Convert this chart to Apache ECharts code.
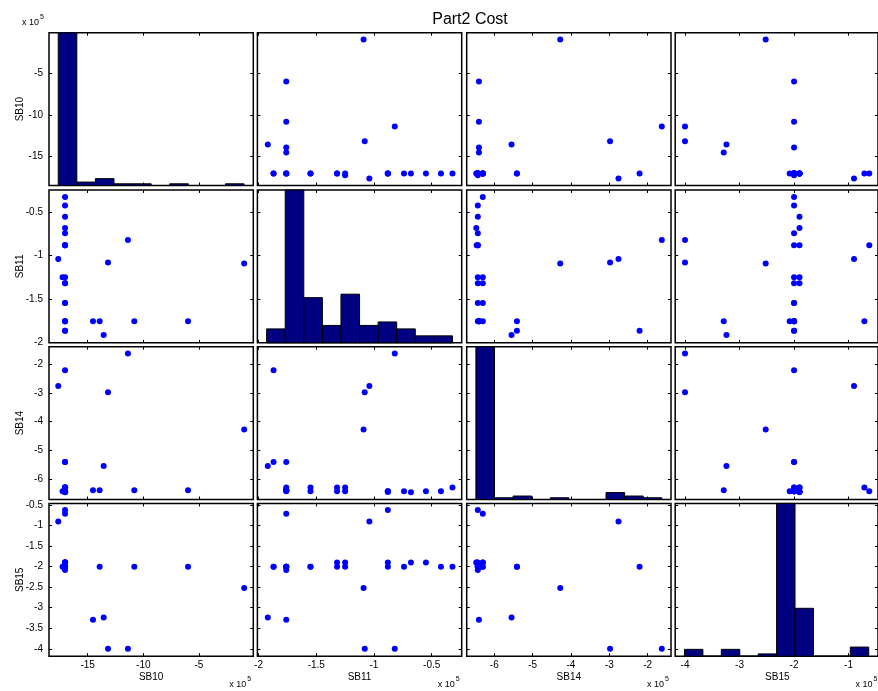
<!DOCTYPE html>
<html><head><meta charset="utf-8">
<script src="https://cdn.jsdelivr.net/npm/echarts@6/dist/echarts.min.js"></script>
<style>html,body{margin:0;padding:0;background:#fff}#c{width:878px;height:691px}</style>
</head><body><div id="c"></div>
<script>
// ---- data (units of 1e5) ----
const varNames = ['SB10', 'SB11', 'SB14', 'SB15'];
const SB10 = [-11.38, -17.64, -13.17, -0.94, -13.56, -14.52, -13.92, -10.81, -5.98,
  -17.03, -17.03, -17.03, -17.03, -17.03, -17.03, -17.03, -17.03, -17.25, -17.03,
  -17.03, -17.03, -17.03, -17.03, -17.03, -17.03, -17.03, -17.03, -17.03];
const SB11 = [-0.82, -1.04, -1.08, -1.09, -1.92, -1.76, -1.76, -1.76, -1.76,
  -0.32, -0.42, -0.55, -0.68, -0.74, -0.88, -0.88, -0.88, -1.25, -1.25,
  -1.32, -1.32, -1.55, -1.55, -1.76, -1.76, -1.76, -1.87, -1.87];
const SB14 = [-1.63, -2.76, -2.98, -4.28, -5.55, -6.40, -6.40, -6.40, -6.40,
  -6.30, -6.43, -6.43, -6.47, -6.43, -6.43, -6.46, -6.43, -6.43, -6.30,
  -6.43, -6.30, -6.43, -6.30, -6.43, -6.30, -5.41, -5.41, -2.21];
const SB15 = [-4.00, -0.90, -4.00, -2.52, -3.24, -3.29, -2.00, -2.00, -2.00,
  -2.00, -2.00, -1.90, -1.90, -2.00, -2.00, -1.90, -0.62, -2.00, -1.90,
  -2.00, -1.90, -2.00, -2.00, -2.08, -0.71, -2.00, -2.00, -2.00];

const hist10 = [89, 2, 4, 1, 1, 0, 1, 0, 0, 1];
const hist11 = [4, 44, 13, 5, 14, 5, 6, 4, 2, 2];
const hist14 = [88, 1, 2, 0, 1, 0, 0, 4, 2, 1];
const hist15 = [3, 0, 3, 0, 1, 67, 21, 0, 0, 4];
const histRange = [[-17.64, -0.95], [-1.93, -0.32], [-6.48, -1.63], [-4.01, -0.63]];

const axisMin = [-18.47, -2.01, -6.72, -4.18];
const axisMax = [-0.12, -0.24, -1.39, -0.46];
const xTickVals = [[-15, -10, -5], [-2, -1.5, -1, -0.5], [-6, -5, -4, -3, -2], [-4, -3, -2, -1]];
const yTickVals = [[-15, -10, -5], [-2, -1.5, -1, -0.5], [-6, -5, -4, -3, -2], [-4, -3.5, -3, -2.5, -2, -1.5, -1, -0.5]];

// ---- layout ----
const colLeft = [49, 257.4, 466.7, 675.2];
const rowTop = [32.7, 190, 346.7, 503.4];
const PW = 204.3, PH = 152.8;
const FONT = 'Liberation Sans, Arial, sans-serif';

const vars = [SB10, SB11, SB14, SB15];
const hists = [hist10, hist11, hist14, hist15];

const grid = [], xAxis = [], yAxis = [], series = [], graphic = [];

for (let r = 0; r < 4; r++) {
  for (let c = 0; c < 4; c++) {
    const g = grid.length;
    grid.push({left: colLeft[c], top: rowTop[r], width: PW, height: PH,
      show: true, borderColor: '#000', borderWidth: 1.5, backgroundColor: '#fff'});
    const xb = xAxis.length;
    const baseX = {type: 'value', gridIndex: g, min: axisMin[c], max: axisMax[c],
      splitLine: {show: false}, axisLine: {show: false},
      axisTick: {show: true, inside: true, length: 3, lineStyle: {color: '#000'}, customValues: xTickVals[c]}};
    xAxis.push(Object.assign({}, baseX, {position: 'bottom',
      axisLabel: {show: r === 3, customValues: xTickVals[c], color: '#000', fontSize: 10, fontFamily: FONT, margin: 4}}));
    xAxis.push(Object.assign({}, baseX, {position: 'top', axisLabel: {show: false}}));
    const yl = yAxis.length;
    const baseY = {type: 'value', gridIndex: g, min: axisMin[r], max: axisMax[r],
      splitLine: {show: false}, axisLine: {show: false},
      axisTick: {show: true, inside: true, length: 3, lineStyle: {color: '#000'}, customValues: yTickVals[r]}};
    yAxis.push(Object.assign({}, baseY, {position: 'left',
      axisLabel: {show: c === 0, customValues: yTickVals[r], color: '#000', fontSize: 10, fontFamily: FONT, margin: 6}}));
    yAxis.push(Object.assign({}, baseY, {position: 'right', axisLabel: {show: false}}));
    if (r === c) {
      const h = hists[r];
      const yh = yAxis.length;
      yAxis.push({type: 'value', gridIndex: g, min: 0, max: Math.max.apply(null, h), show: false, position: 'right', offset: 0});
      const lo = histRange[r][0], hi = histRange[r][1], w = (hi - lo) / h.length;
      const bins = h.map((cnt, k) => [lo + k * w, lo + (k + 1) * w, cnt]);
      series.push({type: 'custom', xAxisIndex: xb, yAxisIndex: yh, data: bins, clip: false,
        encode: {x: [0, 1], y: 2},
        renderItem: function (params, api) {
          const p0 = api.coord([api.value(0), 0]);
          const p1 = api.coord([api.value(1), api.value(2)]);
          return {type: 'rect', shape: {x: p0[0], y: p1[1], width: p1[0] - p0[0], height: p0[1] - p1[1]},
            style: {fill: '#000080', stroke: '#000', lineWidth: 1}};
        }});
    } else {
      const xs = vars[c], ys = vars[r];
      series.push({type: 'scatter', xAxisIndex: xb, yAxisIndex: yl, symbol: 'circle', symbolSize: 6,
        itemStyle: {color: '#0000ff', opacity: 1}, clip: false, silent: true,
        data: xs.map((v, k) => [v, ys[k]])});
    }
  }
}

// axis names
for (let i = 0; i < 4; i++) {
  graphic.push({type: 'text', x: 20, y: rowTop[i] + PH / 2, rotation: Math.PI / 2,
    style: {text: varNames[i], fontSize: 10, fontFamily: FONT, fill: '#000', align: 'center', verticalAlign: 'middle'}});
  graphic.push({type: 'text', x: colLeft[i] + PW / 2, y: 677,
    style: {text: varNames[i], fontSize: 10, fontFamily: FONT, fill: '#000', align: 'center', verticalAlign: 'middle'}});
  const rx = colLeft[i] + PW;
  graphic.push({type: 'text', x: rx - 7, y: 685,
    style: {text: 'x 10', fontSize: 9, fontFamily: FONT, fill: '#000', align: 'right', verticalAlign: 'middle'}});
  graphic.push({type: 'text', x: rx - 6, y: 679,
    style: {text: '5', fontSize: 7, fontFamily: FONT, fill: '#000', align: 'left', verticalAlign: 'middle'}});
}
graphic.push({type: 'text', x: 22, y: 23,
  style: {text: 'x 10', fontSize: 9, fontFamily: FONT, fill: '#000', align: 'left', verticalAlign: 'middle'}});
graphic.push({type: 'text', x: 40, y: 17,
  style: {text: '5', fontSize: 7, fontFamily: FONT, fill: '#000', align: 'left', verticalAlign: 'middle'}});

const chart = echarts.init(document.getElementById('c'), null, {renderer: 'canvas'});
chart.setOption({
  backgroundColor: '#fff',
  animation: false,
  title: {text: 'Part2 Cost', left: 465, top: 7, textAlign: 'center',
    textStyle: {fontSize: 16, fontWeight: 'normal', fontFamily: FONT, color: '#000'}},
  grid, xAxis, yAxis, series, graphic
});
</script></body></html>
